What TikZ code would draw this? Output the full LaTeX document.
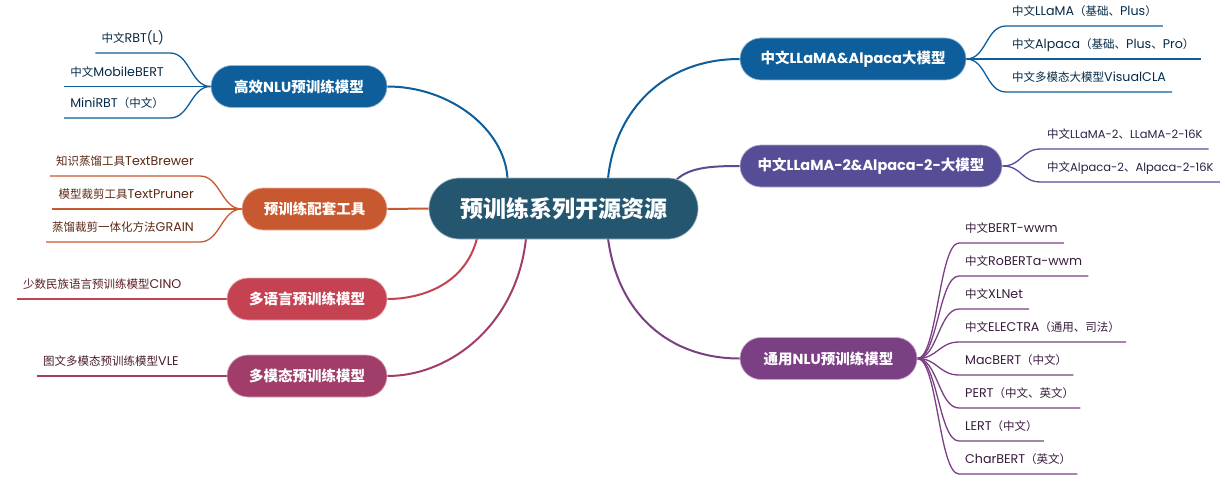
\documentclass[tikz,border=0pt]{standalone}
\usepackage{fontspec}
\setmainfont{Poppins}
\newfontfamily\latf{Poppins}
\newfontfamily\latleaf{Poppins}[Scale=1.1]
\newfontfamily\cjkf{Noto Sans CJK SC}
\let\latcur\latf
\usetikzlibrary{shapes.misc,calc}
\XeTeXinterchartokenstate=1
\newXeTeXintercharclass\CJKcls
\newcount\cjkc
\cjkc="4E00
\loop
  \XeTeXcharclass\cjkc=\CJKcls
  \advance\cjkc by 1
\ifnum\cjkc<"A000 \repeat
\XeTeXcharclass"3001=\CJKcls
\XeTeXcharclass"3002=\CJKcls
\XeTeXcharclass"FF08=\CJKcls
\XeTeXcharclass"FF09=\CJKcls
\XeTeXinterchartoks 0 \CJKcls = {\cjkf}
\XeTeXinterchartoks 4095 \CJKcls = {\cjkf}
\XeTeXinterchartoks \CJKcls 0 = {\latcur}
\definecolor{cC}{HTML}{24566F}
\definecolor{cA}{HTML}{0D5E9A}
\definecolor{cG}{HTML}{554D95}
\definecolor{cB}{HTML}{C8582F}
\definecolor{cD}{HTML}{C44252}
\definecolor{cE}{HTML}{A13D69}
\definecolor{cH}{HTML}{7B3F84}
\pgfdeclarelayer{bg}
\pgfsetlayers{bg,main}
\tikzset{
  root/.style={rounded rectangle, fill=cC, draw=cC!45!white, line width=0.7pt, text=white,
    font=\fontsize{23}{27}\selectfont\bfseries, minimum width=269pt, minimum height=61pt, inner sep=0pt},
  topic/.style={rounded rectangle, fill=#1, draw=#1!45!white, line width=0.7pt, text=white,
    font=\fontsize{14.5}{17}\selectfont\bfseries, minimum height=42pt, inner sep=0pt},
  leaf/.style={font=\fontsize{11.5}{14}\selectfont\let\latcur\latleaf\latleaf, text=#1!45!black,
    inner xsep=6pt, inner ysep=7.5pt, text height=8.5pt, text depth=2.5pt},
  leafnarrow/.style={leaf=#1, font=\fontsize{11.5}{14}\selectfont\let\latcur\latf\latf},
  mainline/.style={line width=2pt, draw=#1},
  subline/.style={line width=1.3pt, draw=#1},
}
\begin{document}
\begin{tikzpicture}[x=1pt,y=-1pt]
\useasboundingbox (0,0) rectangle (1225,484);
% main nodes
\node[root] (C) at (563.5,208.5) {预训练系列开源资源};
\node[topic=cA, minimum width=176pt] (A) at (299,86.5) {高效NLU预训练模型};
\node[topic=cB, minimum width=145pt] (B) at (314.5,209) {预训练配套工具};
\node[topic=cD, minimum width=160pt] (D) at (307,299) {多语言预训练模型};
\node[topic=cE, minimum width=160pt] (E) at (307,376) {多模态预训练模型};
\node[topic=cA, minimum width=226pt] (F) at (853,59) {中文LLaMA\&Alpaca大模型};
\node[topic=cG, minimum width=262pt] (G) at (871,166) {中文LLaMA-2\&Alpaca-2-大模型};
\node[topic=cH, minimum width=177pt] (H) at (828.5,358.5) {通用NLU预训练模型};
% leaves
\node[leaf=cA, anchor=south east] (a1) at (170,53) {中文RBT(L)};
\node[leaf=cA, anchor=south east] (a2) at (170,86.5) {中文MobileBERT};
\node[leaf=cA, anchor=south east] (a3) at (170,118) {MiniRBT（中文）};
\node[leaf=cB, anchor=south east] (b1) at (200,176) {知识蒸馏工具TextBrewer};
\node[leaf=cB, anchor=south east] (b2) at (200,209) {模型裁剪工具TextPruner};
\node[leaf=cB, anchor=south east] (b3) at (200,242) {蒸馏裁剪一体化方法GRAIN};
\node[leaf=cD, anchor=south west] (d1) at (17,299) {少数民族语言预训练模型CINO};
\node[leaf=cE, anchor=south west] (e1) at (37,376) {图文多模态预训练模型VLE};
\node[leaf=cA, anchor=south west] (f1) at (1006,26) {中文LLaMA（基础、Plus）};
\node[leaf=cA, anchor=south west] (f2) at (1006,59) {中文Alpaca（基础、Plus、Pro）};
\node[leaf=cA, anchor=south west] (f3) at (1006,92) {中文多模态大模型VisualCLA};
\node[leafnarrow=cG, anchor=south west] (g1) at (1041,149) {中文LLaMA-2、LLaMA-2-16K};
\node[leafnarrow=cG, anchor=south west] (g2) at (1041,182) {中文Alpaca-2、Alpaca-2-16K};
\node[leaf=cH, anchor=south west] (h1) at (959,243) {中文BERT-wwm};
\node[leaf=cH, anchor=south west] (h2) at (959,276) {中文RoBERTa-wwm};
\node[leaf=cH, anchor=south west] (h3) at (959,309) {中文XLNet};
\node[leaf=cH, anchor=south west] (h4) at (959,342) {中文ELECTRA（通用、司法）};
\node[leaf=cH, anchor=south west] (h5) at (959,375) {MacBERT（中文）};
\node[leaf=cH, anchor=south west] (h6) at (959,408) {PERT（中文、英文）};
\node[leaf=cH, anchor=south west] (h7) at (959,441) {LERT（中文）};
\node[leaf=cH, anchor=south west] (h8) at (959,474) {CharBERT（英文）};
\begin{pgfonlayer}{bg}
% main connectors
\draw[mainline=cA] ($(C.north)+(-56,1)$) .. controls +(-2.5,-49) and +(63,0) .. (A.east);
\draw[mainline=cA] ($(C.north)+(44.5,1)$) .. controls +(7,-69) and +(-75,0) .. (F.west);
\draw[mainline=cG] ($(C.north)+(113,2)$) .. controls +(13,-12) and +(-30,0) .. (G.west);
\draw[mainline=cB] (C.west) -- (B.east);
\draw[mainline=cD] ($(C.south)+(-86.5,-1)$) .. controls +(-12,47) and +(33,0) .. (D.east);
\draw[mainline=cE] ($(C.south)+(-37.5,-1)$) .. controls +(-9,86) and +(63,0) .. (E.east);
\draw[mainline=cH] ($(C.south)+(44.5,-1)$) .. controls +(10,76) and +(-70,0) .. (H.west);
% leaf connectors
\draw[subline=cA] (a1.south west) -- (a1.south east) .. controls +(20,0) and +(-20,0) .. (A.west);
\draw[subline=cA] (a2.south west) -- (A.west);
\draw[subline=cA] (a3.south west) -- (a3.south east) .. controls +(20,0) and +(-20,0) .. (A.west);
\draw[subline=cB] (b1.south west) -- (b1.south east) .. controls +(20,0) and +(-20,0) .. (B.west);
\draw[subline=cB] (b2.south west) -- (B.west);
\draw[subline=cB] (b3.south west) -- (b3.south east) .. controls +(20,0) and +(-20,0) .. (B.west);
\draw[subline=cD] (d1.south west) -- (D.west);
\draw[subline=cE] (e1.south west) -- (E.west);
\draw[subline=cA] (F.east) .. controls +(20,0) and +(-20,0) .. (f1.south west) -- (f1.south east);
\draw[subline=cA] (F.east) -- (f2.south east);
\draw[subline=cA] (F.east) .. controls +(20,0) and +(-20,0) .. (f3.south west) -- (f3.south east);
\draw[subline=cG] (G.east) .. controls +(20,0) and +(-20,0) .. (g1.south west) -- (g1.south east);
\draw[subline=cG] (G.east) .. controls +(20,0) and +(-20,0) .. (g2.south west) -- (g2.south east);
\foreach \h in {h1,h2,h3,h4,h5,h6,h7,h8}
  \draw[subline=cH] (H.east) .. controls +(20,0) and +(-20,0) .. (\h.south west) -- (\h.south east);
\end{pgfonlayer}
\end{tikzpicture}
\end{document}
